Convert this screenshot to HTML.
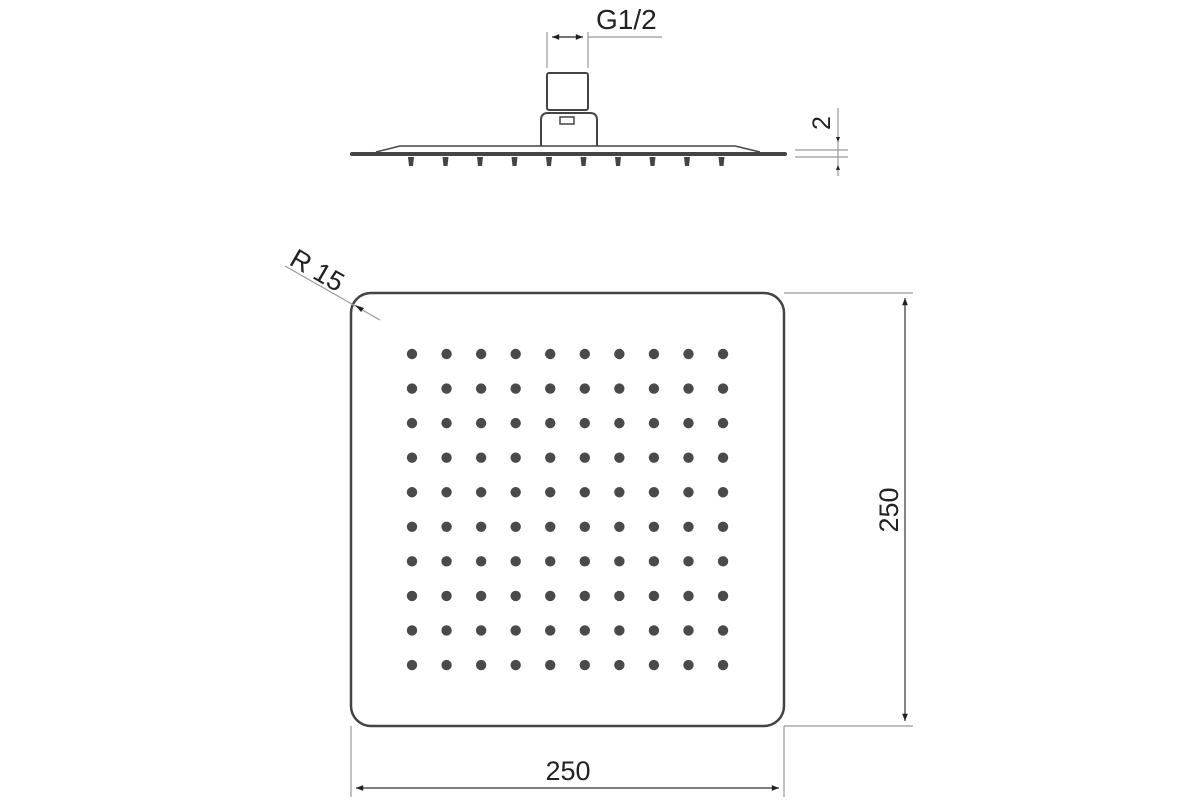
<!DOCTYPE html>
<html><head><meta charset="utf-8"><style>
html,body{margin:0;padding:0;background:#fff;}
svg{display:block;}
text{font-family:"Liberation Sans",Arial,sans-serif;fill:#222;}
</style></head><body>
<svg width="1200" height="800" viewBox="0 0 1200 800" xmlns="http://www.w3.org/2000/svg">
<defs>
<marker id="a" viewBox="0 0 10 10" refX="10" refY="5" markerWidth="8" markerHeight="6" orient="auto-start-reverse"><path d="M0,1 L10,5 L0,9 z" fill="#222"/></marker>
</defs>
<g stroke="#444" fill="none" stroke-width="2">
<path d="M352,154 L785,154" stroke-width="4" stroke-linecap="round"/>
<path d="M376,152 L400,146 L735,146 L760,152" stroke-width="1.5"/>
<path d="M541,146 L541,120 Q541,113 548,113 L590,113 Q597,113 597,120 L597,146" />
<rect x="547" y="73" width="41" height="37" rx="2"/>
<rect x="560" y="117" width="14" height="7" stroke-width="1.5"/>
</g>
<g fill="#444" id="nozz"></g>
<g stroke="#999" stroke-width="1.2">
<line x1="547" y1="32" x2="547" y2="68"/>
<line x1="588" y1="32" x2="588" y2="68"/>
<line x1="588" y1="37" x2="662" y2="37"/>
<line x1="795" y1="150" x2="848" y2="150"/>
<line x1="795" y1="157" x2="848" y2="157"/>
<line x1="838" y1="108" x2="838" y2="176"/>
</g>
<line x1="552" y1="37" x2="583" y2="37" stroke="#222" stroke-width="1.2" marker-start="url(#a)" marker-end="url(#a)"/>
<path d="M838,142 l-2,-5 h4 z M838,165 l-2,5 h4 z" fill="#222"/>
<text x="596" y="29" font-size="28">G1/2</text>
<text font-size="25" transform="translate(830,130) rotate(-90)">2</text>
<rect x="351" y="293" width="433" height="433" rx="20" fill="none" stroke="#444" stroke-width="2.5"/>
<g id="dots" fill="#4a4a4a"></g>
<line x1="285" y1="266" x2="380" y2="320" stroke="#999" stroke-width="1.2"/>
<path d="M355,305 l9,3 -3,4 z" fill="#222"/>
<text font-size="27" transform="translate(288,264) rotate(30)">R 15</text>
<g stroke="#999" stroke-width="1.2">
<line x1="784" y1="293" x2="913" y2="293"/>
<line x1="784" y1="726" x2="913" y2="726"/>
<line x1="351" y1="726" x2="351" y2="797"/>
<line x1="784" y1="726" x2="784" y2="797"/>
</g>
<line x1="905" y1="298" x2="905" y2="721" stroke="#333" stroke-width="1.2" marker-start="url(#a)" marker-end="url(#a)"/>
<line x1="356" y1="788" x2="779" y2="788" stroke="#333" stroke-width="1.2" marker-start="url(#a)" marker-end="url(#a)"/>
<text x="568" y="780" font-size="27" text-anchor="middle">250</text>
<text font-size="27" text-anchor="middle" transform="translate(898,510) rotate(-90)">250</text>
</svg>
<script>
var ns='http://www.w3.org/2000/svg';
var gd=document.getElementById('dots');
for(var i=0;i<10;i++)for(var j=0;j<10;j++){var c=document.createElementNS(ns,'circle');c.setAttribute('cx',412+i*34.56);c.setAttribute('cy',354+j*34.56);c.setAttribute('r',5.2);gd.appendChild(c);}
var gn=document.getElementById('nozz');
for(var k=0;k<10;k++){var p=document.createElementNS(ns,'path');p.setAttribute('d','M'+(408+k*34.5)+',157 h6 l-1,9 h-4 z');gn.appendChild(p);}
</script>
</body></html>
